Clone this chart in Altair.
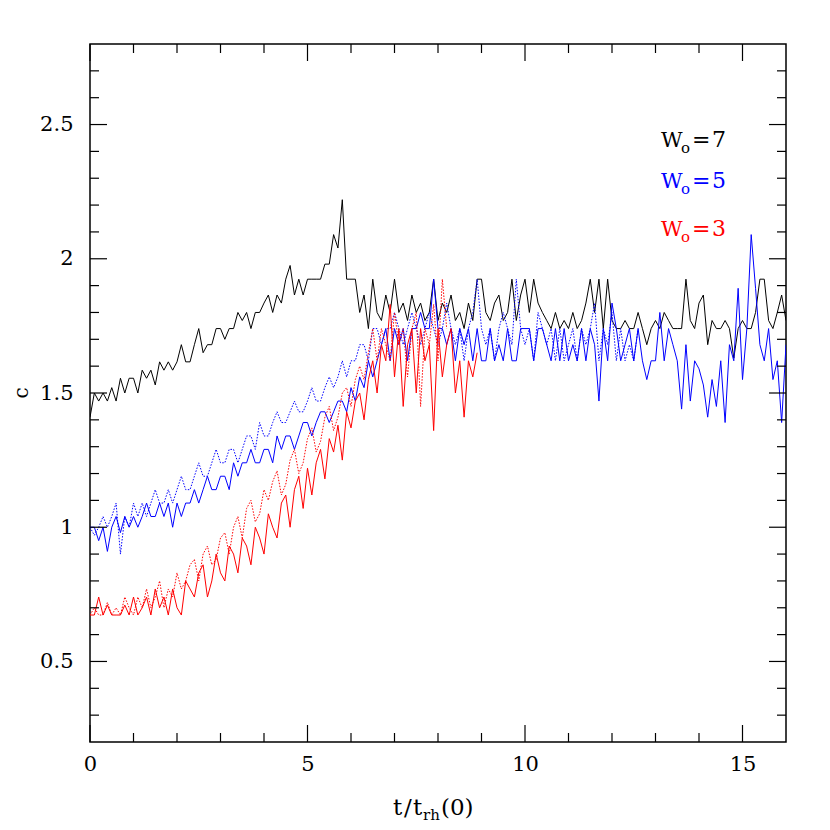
import altair as alt
import pandas as pd

# ---------------- data ----------------
T = [0.0, 0.1, 0.2, 0.3, 0.4, 0.5, 0.6, 0.7, 0.8, 0.9,
     1.0, 1.1, 1.2, 1.3, 1.4, 1.5, 1.6, 1.7, 1.8, 1.9,
     2.0, 2.1, 2.2, 2.3, 2.4, 2.5, 2.6, 2.7, 2.8, 2.9,
     3.0, 3.1, 3.2, 3.3, 3.4, 3.5, 3.6, 3.7, 3.8, 3.9,
     4.0, 4.1, 4.2, 4.3, 4.4, 4.5, 4.6, 4.7, 4.8, 4.9,
     5.0, 5.1, 5.2, 5.3, 5.4, 5.5, 5.6, 5.7, 5.8, 5.9,
     6.0, 6.1, 6.2, 6.3, 6.4, 6.5, 6.6, 6.7, 6.8, 6.9,
     7.0, 7.1, 7.2, 7.3, 7.4, 7.5, 7.6, 7.7, 7.8, 7.9,
     8.0, 8.1, 8.2, 8.3, 8.4, 8.5, 8.6, 8.7, 8.8, 8.9,
     9.0, 9.1, 9.2, 9.3, 9.4, 9.5, 9.6, 9.7, 9.8, 9.9,
     10.0, 10.1, 10.2, 10.3, 10.4, 10.5, 10.6, 10.7, 10.8, 10.9,
     11.0, 11.1, 11.2, 11.3, 11.4, 11.5, 11.6, 11.7, 11.8, 11.9,
     12.0, 12.1, 12.2, 12.3, 12.4, 12.5, 12.6, 12.7, 12.8, 12.9,
     13.0, 13.1, 13.2, 13.3, 13.4, 13.5, 13.6, 13.7, 13.8, 13.9,
     14.0, 14.1, 14.2, 14.3, 14.4, 14.5, 14.6, 14.7, 14.8, 14.9,
     15.0, 15.1, 15.2, 15.3, 15.4, 15.5, 15.6, 15.7, 15.8, 15.9,
     16.0]

W7 = [1.41, 1.50, 1.47, 1.50, 1.47, 1.52, 1.47, 1.555, 1.50, 1.555,
      1.555, 1.50, 1.585, 1.555, 1.585, 1.53, 1.616, 1.585, 1.616, 1.585,
      1.616, 1.68, 1.616, 1.616, 1.68, 1.74, 1.65, 1.68, 1.68, 1.74,
      1.74, 1.70, 1.74, 1.74, 1.80, 1.77, 1.80, 1.74, 1.80, 1.80,
      1.835, 1.865, 1.80, 1.865, 1.835, 1.924, 1.975, 1.865, 1.924, 1.865,
      1.924, 1.924, 1.924, 1.924, 1.98, 1.98, 2.09, 2.04, 2.22, 1.924,
      1.924, 1.924, 1.80, 1.865, 1.74, 1.924, 1.80, 1.77, 1.865, 1.80,
      1.924, 1.80, 1.835, 1.77, 1.865, 1.80, 1.835, 1.77, 1.80, 1.924,
      1.77, 1.835, 1.80, 1.865, 1.77, 1.80, 1.74, 1.835, 1.77, 1.924,
      1.924, 1.80, 1.77, 1.835, 1.865, 1.77, 1.80, 1.924, 1.77, 1.865,
      1.924, 1.80, 1.924, 1.835, 1.80, 1.77, 1.74, 1.80, 1.74, 1.77,
      1.74, 1.80, 1.74, 1.77, 1.835, 1.924, 1.80, 1.924, 1.74, 1.924,
      1.77, 1.74, 1.74, 1.77, 1.74, 1.74, 1.80, 1.74, 1.68, 1.74,
      1.77, 1.74, 1.80, 1.77, 1.74, 1.74, 1.74, 1.924, 1.77, 1.74,
      1.835, 1.865, 1.68, 1.77, 1.74, 1.74, 1.77, 1.74, 1.63, 1.74,
      1.77, 1.74, 1.74, 1.80, 1.924, 1.924, 1.77, 1.74, 1.80, 1.865,
      1.77]

W5_SOLID = [1.00, 1.00, 0.95, 1.00, 0.91, 1.00, 1.04, 0.98, 1.04, 1.00,
            1.04, 1.00, 1.04, 1.09, 1.04, 1.04, 1.09, 1.04, 1.09, 1.00,
            1.09, 1.04, 1.09, 1.09, 1.14, 1.09, 1.14, 1.19, 1.14, 1.14,
            1.19, 1.19, 1.14, 1.24, 1.19, 1.24, 1.24, 1.29, 1.24, 1.24,
            1.29, 1.29, 1.24, 1.34, 1.29, 1.34, 1.34, 1.29, 1.34, 1.39,
            1.39, 1.34, 1.39, 1.43, 1.43, 1.39, 1.43, 1.47, 1.47, 1.43,
            1.52, 1.47, 1.56, 1.52, 1.62, 1.56, 1.62, 1.68, 1.74, 1.62,
            1.74, 1.68, 1.74, 1.62, 1.74, 1.74, 1.80, 1.74, 1.74, 1.924,
            1.74, 1.74, 1.68, 1.74, 1.62, 1.74, 1.68, 1.74, 1.62, 1.74,
            1.62, 1.62, 1.74, 1.62, 1.68, 1.62, 1.74, 1.62, 1.62, 1.74,
            1.74, 1.74, 1.62, 1.74, 1.74, 1.68, 1.62, 1.74, 1.62, 1.74,
            1.62, 1.68, 1.62, 1.74, 1.62, 1.74, 1.68, 1.47, 1.74, 1.62,
            1.835, 1.74, 1.62, 1.68, 1.74, 1.62, 1.74, 1.62, 1.55, 1.62,
            1.62, 1.80, 1.62, 1.74, 1.68, 1.62, 1.44, 1.68, 1.47, 1.62,
            1.59, 1.53, 1.41, 1.55, 1.45, 1.62, 1.39, 1.68, 1.62, 1.89,
            1.55, 1.74, 2.09, 1.89, 1.68, 1.62, 1.74, 1.55, 1.62, 1.39,
            1.68]

W5_DOTTED = [1.00, 0.97, 1.00, 1.04, 1.00, 1.04, 1.09, 0.90, 1.04, 1.00,
             1.09, 1.04, 1.09, 1.04, 1.09, 1.14, 1.09, 1.09, 1.14, 1.09,
             1.14, 1.19, 1.14, 1.14, 1.19, 1.24, 1.19, 1.19, 1.24, 1.29,
             1.24, 1.24, 1.29, 1.29, 1.24, 1.29, 1.34, 1.34, 1.29, 1.39,
             1.34, 1.34, 1.39, 1.43, 1.39, 1.39, 1.43, 1.47, 1.43, 1.43,
             1.47, 1.52, 1.47, 1.47, 1.52, 1.56, 1.52, 1.56, 1.62, 1.56,
             1.62, 1.62, 1.68, 1.68, 1.62, 1.74, 1.74, 1.68, 1.74, 1.74,
             1.80, 1.74, 1.68, 1.74, 1.80, 1.74, 1.68, 1.74, 1.80, 1.74,
             1.68, 1.74, 1.835, 1.74, 1.68, 1.74, 1.62, 1.74, 1.80, 1.924,
             1.74, 1.68, 1.74, 1.62, 1.74, 1.80, 1.74, 1.68, 1.924, 1.74,
             1.68, 1.74, 1.62, 1.80, 1.74, 1.68, 1.74, 1.62, 1.74, 1.62,
             1.68, 1.74, 1.62, 1.74, 1.68, 1.74, 1.835, 1.62, 1.74, 1.68,
             1.80, 1.62, 1.74, 1.62, 1.68, 1.62, 1.74]

W3_SOLID = [0.673, 0.673, 0.74, 0.673, 0.71, 0.673, 0.673, 0.673, 0.71, 0.673,
            0.74, 0.673, 0.70, 0.74, 0.673, 0.77, 0.70, 0.74, 0.673, 0.77,
            0.70, 0.673, 0.80, 0.77, 0.74, 0.83, 0.86, 0.74, 0.80, 0.90,
            0.83, 0.80, 0.93, 0.90, 0.83, 0.96, 0.93, 0.86, 1.00, 0.96,
            0.90, 1.05, 1.00, 0.96, 1.09, 1.12, 1.00, 1.14, 1.19, 1.07,
            1.22, 1.12, 1.24, 1.29, 1.18, 1.33, 1.28, 1.38, 1.25, 1.43,
            1.37, 1.47, 1.50, 1.40, 1.55, 1.62, 1.50, 1.68, 1.62, 1.83,
            1.56, 1.74, 1.45, 1.68, 1.74, 1.50, 1.74, 1.62, 1.68, 1.36,
            1.74, 1.56, 1.68, 1.74, 1.50, 1.62, 1.41, 1.62, 1.56, 1.65]

W3_DOTTED = [0.673, 0.70, 0.673, 0.673, 0.72, 0.673, 0.70, 0.673, 0.74, 0.70,
             0.673, 0.74, 0.70, 0.77, 0.70, 0.74, 0.80, 0.70, 0.77, 0.74,
             0.83, 0.77, 0.80, 0.86, 0.88, 0.80, 0.90, 0.93, 0.86, 0.88,
             0.96, 0.98, 0.90, 1.00, 1.04, 0.96, 1.07, 1.10, 1.02, 1.05,
             1.14, 1.10, 1.17, 1.21, 1.12, 1.16, 1.25, 1.29, 1.20, 1.24,
             1.33, 1.37, 1.28, 1.32, 1.41, 1.45, 1.36, 1.41, 1.50, 1.52,
             1.45, 1.55, 1.60, 1.55, 1.65, 1.74, 1.62, 1.74, 1.68, 1.62,
             1.80, 1.68, 1.74, 1.56, 1.74, 1.80, 1.45, 1.74, 1.68, 1.83,
             1.62, 1.924, 1.74]

X_MAJOR = [0, 5, 10, 15]
X_MINOR = [1, 2, 3, 4, 6, 7, 8, 9, 11, 12, 13, 14]
Y_MAJOR = [0.5, 1.0, 1.5, 2.0, 2.5]
Y_MINOR = [0.3, 0.4, 0.6, 0.7, 0.8, 0.9, 1.1, 1.2, 1.3, 1.4, 1.6, 1.7,
           1.8, 1.9, 2.1, 2.2, 2.3, 2.4, 2.6, 2.7]
LEGEND_VALUES = ["7", "5", "3"]
LEGEND_COLORS = ["#000000", "#0000ff", "#ff0000"]

# ---------------- chart ----------------
W, H = 696, 698
FONT = "DejaVu Serif"
xs = alt.Scale(domain=[0, 16], nice=False, zero=False)
ys = alt.Scale(domain=[0.2, 2.8], nice=False, zero=False)

XA = alt.Axis(values=X_MAJOR, ticks=False, tickSize=0, domain=False, grid=False,
              labelFont=FONT, labelFontSize=21, labelPadding=11,
              labelColor="black", title=None, labelFlush=False)
YA = alt.Axis(values=Y_MAJOR, ticks=False, tickSize=0, domain=False, grid=False,
              labelFont=FONT, labelFontSize=21, labelPadding=17,
              labelColor="black", title=None, format=".1~f", labelFlush=False)


def line_layer(cvals, color, dash=None):
    df = pd.DataFrame({"t": T[:len(cvals)], "c": cvals})
    kw = dict(color=color, strokeWidth=1, clip=True)
    if dash is not None:
        kw["strokeDash"] = dash
    return alt.Chart(df).mark_line(**kw).encode(
        x=alt.X("t:Q", scale=xs, axis=XA),
        y=alt.Y("c:Q", scale=ys, axis=YA),
    )


def xticks(vals, length, top):
    df = pd.DataFrame({"t": vals})
    y1, y2 = (0, length) if top else (H, H - length)
    return alt.Chart(df).mark_rule(color="black", strokeWidth=1.2).encode(
        x=alt.X("t:Q", scale=xs, axis=XA),
        y=alt.value(y1), y2=alt.value(y2))


def yticks(vals, length, right):
    df = pd.DataFrame({"c": vals})
    x1, x2 = (W, W - length) if right else (0, length)
    return alt.Chart(df).mark_rule(color="black", strokeWidth=1.2).encode(
        y=alt.Y("c:Q", scale=ys, axis=YA),
        x=alt.value(x1), x2=alt.value(x2))


def text(s, x, y, size, color="black", align="left", angle=0, baseline="alphabetic"):
    df = pd.DataFrame({"s": [s]})
    kw = dict(align=align, baseline=baseline, font=FONT, fontSize=size, color=color)
    if angle:
        kw["angle"] = angle
    return alt.Chart(df).mark_text(**kw).encode(
        x=alt.value(x), y=alt.value(y), text="s:N")


layers = [
    line_layer(W7, "#000000"),
    line_layer(W5_SOLID, "#0000ff"),
    line_layer(W5_DOTTED, "#0000ff", dash=[1.5, 1.5]),
    line_layer(W3_SOLID, "#ff0000"),
    line_layer(W3_DOTTED, "#ff0000", dash=[1.5, 1.5]),
    xticks(X_MAJOR, 17, False), xticks(X_MINOR, 9, False),
    xticks(X_MAJOR, 17, True), xticks(X_MINOR, 9, True),
    yticks(Y_MAJOR, 17, False), yticks(Y_MINOR, 9, False),
    yticks(Y_MAJOR, 17, True), yticks(Y_MINOR, 9, True),
    # x axis title t/t_rh(0)
    text("t", 303, 771, 23),
    text("/", 314, 771, 23),
    text("t", 323, 771, 23),
    text("rh", 333, 776, 15),
    text("(0)", 351, 771, 23),
    # y axis title
    text("c", -68, 349, 20, align="center", angle=270, baseline="middle"),
]

legend_base = [103, 144, 192]
for val, col, yb in zip(LEGEND_VALUES, LEGEND_COLORS, legend_base):
    layers.append(text("W", 571, yb, 21, color=col))
    layers.append(text("o", 591, yb + 6, 15, color=col))
    layers.append(text("=", 602, yb, 22, color=col))
    layers.append(text(val, 622, yb, 22, color=col))

chart = alt.layer(*layers).properties(
    width=W, height=H,
    autosize=alt.AutoSizeParams(type="none"),
    padding={"left": 82, "top": 36, "right": 30, "bottom": 88},
).configure_view(stroke="black", strokeWidth=1.5)

chart.save("out.html", embed_options={"renderer": "svg", "actions": False})
